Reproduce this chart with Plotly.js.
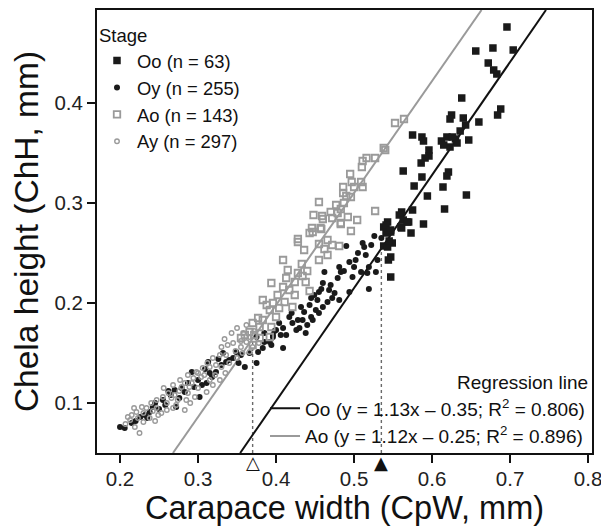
<!DOCTYPE html>
<html>
<head>
<meta charset="utf-8">
<script src="https://cdn.plot.ly/plotly-3.0.1.min.js"></script>
<style>html,body{margin:0;padding:0;background:#fff}#chart{width:601px;height:527px}</style>
</head>
<body>
<div id="chart"></div>
<script>
// ---- data ----
const stageNames = ["Oo", "Oy", "Ao", "Ay"];
const stageN = [63, 255, 143, 297];

const ooX = [0.696,0.656,0.678,0.704,0.672,0.679,0.683,0.638,0.688,0.684,0.625,0.623,0.640,0.643,0.660,0.636,0.575,0.587,0.589,0.612,0.619,0.626,0.630,0.647,0.615,0.623,0.596,0.632,0.596,0.591,0.586,0.563,0.621,0.619,0.587,0.577,0.614,0.594,0.644,0.575,0.616,0.561,0.558,0.563,0.570,0.589,0.561,0.573,0.543,0.538,0.547,0.541,0.549,0.538,0.543,0.547,0.544,0.547,0.541,0.547,0.560,0.568,0.545];
const ooY = [0.476,0.452,0.455,0.453,0.440,0.433,0.429,0.405,0.394,0.388,0.388,0.384,0.385,0.378,0.381,0.372,0.368,0.366,0.362,0.362,0.366,0.366,0.364,0.363,0.358,0.356,0.353,0.360,0.347,0.345,0.340,0.332,0.331,0.327,0.326,0.317,0.316,0.307,0.308,0.293,0.294,0.291,0.288,0.283,0.281,0.279,0.275,0.270,0.281,0.276,0.271,0.270,0.260,0.257,0.256,0.246,0.243,0.226,0.278,0.273,0.276,0.281,0.262];

const oyX = [0.526,0.511,0.513,0.490,0.515,0.530,0.502,0.494,0.481,0.483,0.462,0.519,0.528,0.517,0.509,0.498,0.479,0.460,0.519,0.494,0.468,0.475,0.455,0.449,0.445,0.453,0.466,0.481,0.460,0.443,0.451,0.436,0.445,0.428,0.434,0.447,0.421,0.417,0.404,0.409,0.426,0.430,0.438,0.400,0.406,0.413,0.396,0.392,0.409,
  0.375,0.385,0.394,0.377,0.375,0.360,0.345,0.340,0.349,0.326,0.313,0.323,0.315,0.311,0.292,0.300,0.279,0.270,0.283,0.302,0.255,0.245,0.272,0.238,0.232,0.226,0.200,0.206,0.385,0.396,0.355,0.336,
  0.383,0.398,0.420,0.432,0.440,0.455,0.470,0.487,0.505,0.522,0.535,0.500,0.472,0.458,0.366,0.352,0.330,0.318,0.305,0.295,0.287,0.265,0.258,0.250,0.242,0.235,0.220,0.215,0.262,0.276,0.309,0.332];
const oyY = [0.267,0.260,0.256,0.257,0.248,0.243,0.243,0.241,0.236,0.231,0.231,0.236,0.231,0.230,0.231,0.226,0.225,0.220,0.214,0.211,0.213,0.210,0.211,0.208,0.205,0.203,0.201,0.203,0.196,0.198,0.193,0.191,0.186,0.183,0.183,0.183,0.180,0.186,0.180,0.175,0.173,0.175,0.170,0.173,0.168,0.168,0.166,0.161,0.155,
  0.166,0.161,0.158,0.151,0.140,0.136,0.145,0.143,0.151,0.144,0.141,0.131,0.130,0.120,0.131,0.123,0.115,0.113,0.111,0.106,0.103,0.100,0.096,0.091,0.088,0.086,0.076,0.075,0.170,0.168,0.148,0.141,
  0.155,0.172,0.190,0.196,0.178,0.190,0.218,0.232,0.250,0.258,0.265,0.236,0.205,0.214,0.150,0.140,0.138,0.126,0.118,0.116,0.120,0.108,0.098,0.094,0.096,0.085,0.082,0.080,0.112,0.105,0.134,0.150];

const aoX = [0.564,0.5525,0.540,0.527,0.516,0.511,0.510,0.495,0.497,0.509,0.511,0.500,0.486,0.486,0.490,0.496,0.487,0.477,0.455,0.483,0.470,0.479,0.527,0.448,0.459,0.460,0.472,0.492,0.483,0.504,0.446,0.457,0.443,0.496,0.428,0.447,0.458,0.483,0.428,0.436,0.455,0.466,0.472,0.481,0.462,0.466,0.455,0.409,0.433,0.440,0.415,0.428,0.434,0.413,0.424,0.438,0.394,0.409,0.417,0.443,0.424,0.402,0.383,0.396,0.411,0.421,0.404,0.392,0.377,0.383,0.400,0.370,0.379,0.394,0.366,0.360,0.372,0.379,0.355,0.388,0.370,0.392,0.538];
const aoY = [0.384,0.380,0.353,0.345,0.345,0.342,0.336,0.329,0.321,0.321,0.316,0.316,0.316,0.310,0.307,0.306,0.300,0.298,0.301,0.294,0.291,0.290,0.292,0.288,0.287,0.284,0.285,0.286,0.279,0.283,0.275,0.275,0.270,0.272,0.264,0.271,0.274,0.280,0.261,0.253,0.259,0.263,0.258,0.257,0.254,0.248,0.243,0.243,0.239,0.232,0.233,0.230,0.227,0.225,0.221,0.221,0.220,0.216,0.213,0.212,0.208,0.208,0.203,0.200,0.201,0.196,0.195,0.193,0.185,0.183,0.186,0.180,0.176,0.176,0.171,0.168,0.168,0.165,0.165,0.198,0.158,0.166,0.355];

const ayX = [0.343,0.334,0.338,0.330,0.358,0.366,0.362,0.370,0.355,0.366,0.357,0.336,0.328,0.319,0.315,0.323,0.330,0.306,0.298,0.287,0.294,0.304,0.315,0.328,0.319,0.311,0.277,0.268,0.279,0.289,0.300,0.287,0.296,0.262,0.255,0.266,0.274,0.285,0.247,0.240,0.260,0.272,0.283,0.260,0.228,0.234,0.247,0.221,0.230,0.215,0.223,0.238,0.213,0.249,0.219,0.230,
  0.207,0.225,0.245,0.253,0.268,0.276,0.292,0.308,0.345,0.350,0.362,0.372,0.348,0.340,0.312,0.300,0.283,0.270,0.256,0.242,0.218,0.210,0.290,0.322,0.335,0.355,0.378,0.350];
const ayY = [0.170,0.164,0.158,0.156,0.170,0.166,0.161,0.156,0.156,0.151,0.150,0.148,0.148,0.145,0.136,0.138,0.136,0.135,0.131,0.128,0.125,0.126,0.123,0.123,0.118,0.111,0.123,0.118,0.116,0.116,0.115,0.110,0.106,0.110,0.106,0.105,0.103,0.103,0.103,0.100,0.100,0.098,0.093,0.093,0.096,0.095,0.095,0.091,0.090,0.088,0.085,0.085,0.083,0.088,0.076,0.081,
  0.079,0.070,0.082,0.090,0.095,0.112,0.120,0.128,0.160,0.175,0.178,0.172,0.152,0.140,0.140,0.130,0.120,0.108,0.115,0.092,0.095,0.086,0.100,0.128,0.130,0.162,0.160,0.145];

const regNames = ["Oo", "Ao"];
const regSlope = [1.13, 1.12];
const regIntercept = [-0.35, -0.25];
const regR2 = [0.806, 0.896];
const thresholdX = [0.37, 0.535];   // open (Ao) and filled (Oo) triangles
const thresholdSymbol = ["\u25B3", "\u25B2"];

const xTicks = [0.2, 0.3, 0.4, 0.5, 0.6, 0.7, 0.8];
const yTicks = [0.1, 0.2, 0.3, 0.4];
// ---------------------------------------

const xRange = [0.1705, 0.805];
const yRange = [0.05, 0.493];
const FONT = "Liberation Sans, Arial, Helvetica, sans-serif";
const GRAY = "#9a9a9a";

const traces = [];

// dotted threshold lines (drawn first, beneath data)
const dotLineIdx = [1, 0]; // open -> Ao line, filled -> Oo line
thresholdX.forEach((xv, i) => {
  const k = dotLineIdx[i];
  traces.push({
    x: [xv, xv], y: [yRange[0], regSlope[k] * xv + regIntercept[k]],
    mode: "lines", line: {color: "#6a6a6a", width: 1.4, dash: "dot"},
    showlegend: false, hoverinfo: "skip"
  });
});

// regression lines
const regColors = ["#111111", GRAY];
regNames.forEach((nm, k) => {
  const x0 = (yRange[0] - regIntercept[k]) / regSlope[k];
  const x1 = (yRange[1] - regIntercept[k]) / regSlope[k];
  const b = Math.abs(regIntercept[k]).toFixed(2);
  traces.push({
    x: [x0, x1], y: [yRange[0], yRange[1]],
    mode: "lines", line: {color: regColors[k], width: 2},
    name: nm + " (y = " + regSlope[k].toFixed(2) + "x \u2013 " + b + "; R<sup>2</sup> = " + regR2[k].toFixed(3) + ")",
    legend: "legend2", legendrank: k + 1
  });
});

// scatter groups
const groups = [
  {x: ooX, y: ooY, marker: {symbol: "square", size: 7.5, color: "#1a1a1a"}},
  {x: oyX, y: oyY, marker: {symbol: "circle", size: 6, color: "#1a1a1a"}},
  {x: aoX, y: aoY, marker: {symbol: "square-open", size: 6.5, color: GRAY, line: {width: 1.8}}},
  {x: ayX, y: ayY, marker: {symbol: "circle-open", size: 4.5, color: GRAY, line: {width: 1.4}}}
];
groups.forEach((g, i) => {
  traces.push({
    x: g.x, y: g.y, mode: "markers", marker: g.marker,
    name: stageNames[i] + " (n = " + stageN[i] + ")",
    legend: "legend", legendrank: i + 1
  });
});

// threshold triangles under the axis (annotations anchored to data x)
const annotations = thresholdX.map((xv, i) => ({
  x: xv, xref: "x", y: 0, yref: "paper", yanchor: "top", yshift: 3,
  text: thresholdSymbol[i], showarrow: false,
  font: {family: "DejaVu Sans, sans-serif", size: 18, color: "#111"}
}));

const layout = {
  width: 601, height: 527,
  margin: {l: 97, r: 9, t: 10, b: 74},
  paper_bgcolor: "#fff", plot_bgcolor: "#fff",
  font: {family: FONT, color: "#111"},
  annotations: annotations,
  xaxis: {
    range: xRange, tickvals: xTicks, ticktext: xTicks.map(v => v.toFixed(1)),
    ticks: "outside", ticklen: 8, tickwidth: 2, tickcolor: "#111",
    ticklabelstandoff: -2, ticklabeloverflow: "allow",
    showline: true, linewidth: 2, linecolor: "#111", mirror: true,
    showgrid: false, zeroline: false,
    tickfont: {size: 20.5, family: FONT, color: "#222"},
    title: {text: "Carapace width (CpW, mm)", font: {size: 32.5, family: FONT, color: "#111"}, standoff: 8}
  },
  yaxis: {
    range: yRange, tickvals: yTicks, ticktext: yTicks.map(v => v.toFixed(1)),
    ticks: "outside", ticklen: 8, tickwidth: 2, tickcolor: "#111",
    showline: true, linewidth: 2, linecolor: "#111", mirror: true,
    showgrid: false, zeroline: false,
    tickfont: {size: 20.5, family: FONT, color: "#222"},
    title: {text: "Chela height (ChH, mm)", font: {size: 33.5, family: FONT, color: "#111"}, standoff: 6}
  },
  legend: {
    x: 0.0, y: 0.982, xanchor: "left", yanchor: "top",
    bgcolor: "rgba(0,0,0,0)", borderwidth: 0,
    font: {size: 18.4, family: FONT, color: "#111"},
    title: {text: "Stage", font: {size: 18.5, family: FONT, color: "#111"}},
    tracegroupgap: 0, itemsizing: "trace"
  },
  legend2: {
    x: 0.996, y: -0.006, xanchor: "right", yanchor: "bottom",
    bgcolor: "rgba(0,0,0,0)", borderwidth: 0,
    font: {size: 19, family: FONT, color: "#111"},
    title: {text: "Regression line", side: "top right", font: {size: 19, family: FONT, color: "#111"}},
    tracegroupgap: 0
  },
  showlegend: true
};

Plotly.newPlot("chart", traces, layout, {displayModeBar: false, staticPlot: true});
</script>
</body>
</html>
